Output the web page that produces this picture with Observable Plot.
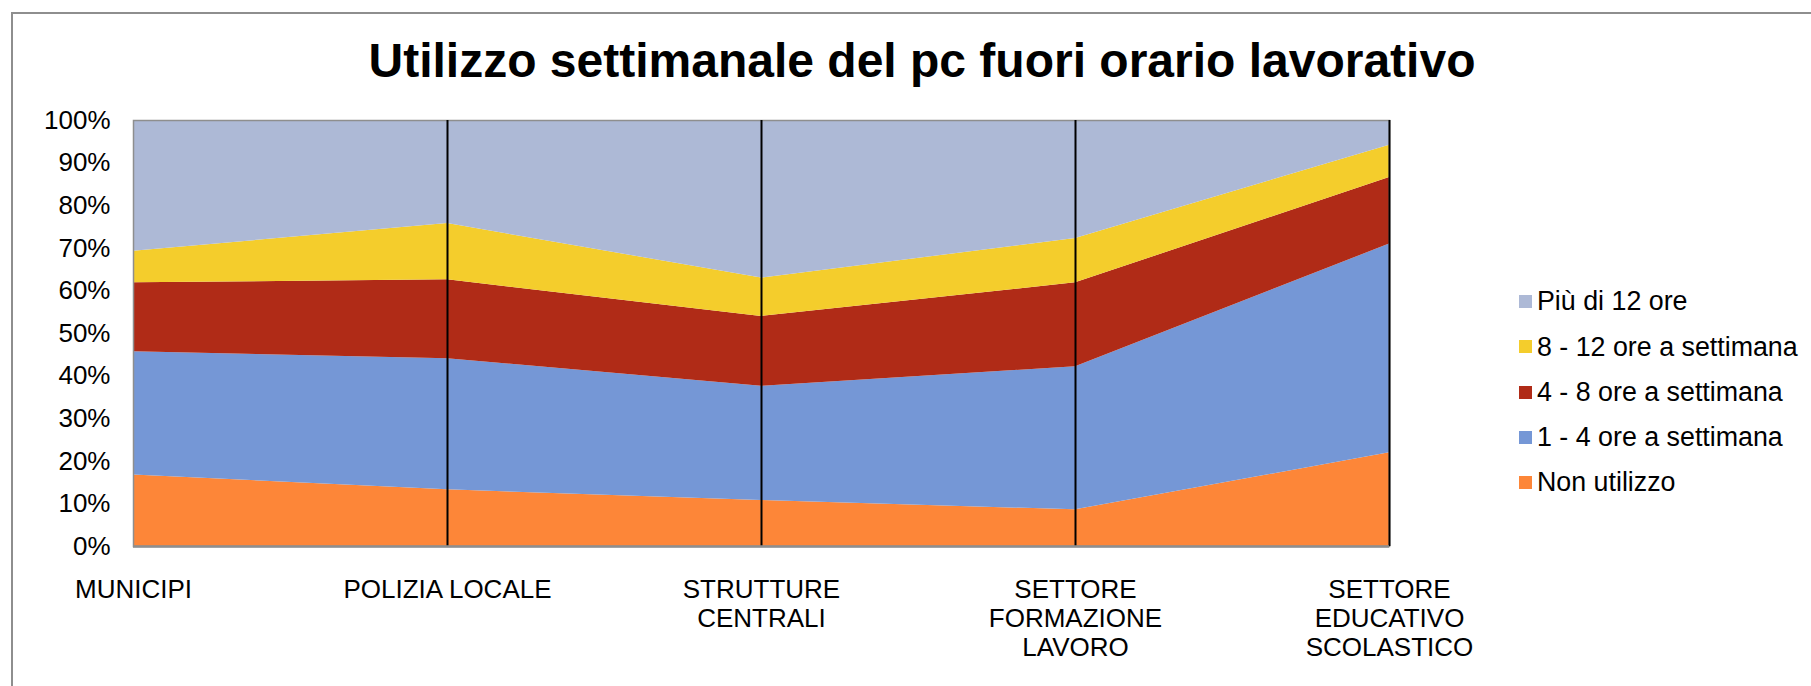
<!DOCTYPE html>
<html>
<head>
<meta charset="utf-8">
<script src="https://cdn.jsdelivr.net/npm/d3@7"></script>
<script src="https://cdn.jsdelivr.net/npm/@observablehq/plot@0.6"></script>
<style>
  html, body { margin: 0; padding: 0; background: #fff; overflow: hidden; }
  #wrap { position: relative; width: 1811px; height: 686px; font-family: "Liberation Sans", Arial, sans-serif; }
  #border { position: absolute; left: 11px; top: 12px; width: 1900px; height: 900px; border-top: 2px solid #8e8e8e; border-left: 2px solid #8e8e8e; box-sizing: border-box; }
  #title { position: absolute; left: 0; top: 37px; width: 1844px; text-align: center; font-weight: bold; font-size: 48px; line-height: 48px; color: #000; }
  #chart { position: absolute; left: 0; top: 0; }
  #legend { position: absolute; left: 1519px; top: 279px; }
  .item { display: flex; align-items: center; height: 45.3px; font-size: 26.8px; line-height: 26.8px; color: #000; white-space: nowrap; }
  .sw { width: 13px; height: 13px; margin-right: 5px; flex: none; }
</style>
</head>
<body>
<div id="wrap">
  <div id="border"></div>
  <div id="chart"></div>
  <div id="title"></div>
  <div id="legend"></div>
</div>
<script>
const titleText = "Utilizzo settimanale del pc fuori orario lavorativo";
const categories = ["MUNICIPI", "POLIZIA LOCALE", "STRUTTURE CENTRALI", "SETTORE FORMAZIONE LAVORO", "SETTORE EDUCATIVO SCOLASTICO"];
const categoryLabels = ["MUNICIPI", "POLIZIA LOCALE", "STRUTTURE\nCENTRALI", "SETTORE\nFORMAZIONE\nLAVORO", "SETTORE\nEDUCATIVO\nSCOLASTICO"];
const series = ["Non utilizzo", "1 - 4 ore a settimana", "4 - 8 ore a settimana", "8 - 12 ore a settimana", "Più di 12 ore"];
const colors = ["#fd8638", "#7597d6", "#b02b17", "#f4cd2c", "#adb9d6"];
const nonUtilizzo = [16.8, 13.3, 10.8, 8.6, 22.0];
const ore1a4 = [28.9, 30.8, 26.8, 33.6, 49.0];
const ore4a8 = [16.2, 18.5, 16.4, 19.7, 15.6];
const ore8a12 = [7.4, 13.2, 9.0, 10.4, 7.6];
const oltre12 = [30.7, 24.2, 37.0, 27.7, 5.8];
const yTicks = [0, 10, 20, 30, 40, 50, 60, 70, 80, 90, 100];

const seriesValues = [nonUtilizzo, ore1a4, ore4a8, ore8a12, oltre12];
const data = [];
series.forEach((s, si) => {
  categories.forEach((c, ci) => data.push({cat: c, series: s, value: seriesValues[si][ci]}));
});

document.getElementById("title").textContent = titleText;

const chart = Plot.plot({
  width: 1811,
  height: 686,
  marginTop: 120,
  marginLeft: 133,
  marginRight: 422,
  marginBottom: 140,
  style: {fontFamily: "'Liberation Sans', Arial, sans-serif", fontSize: "26px", color: "#000", background: "transparent", overflow: "visible"},
  x: {type: "point", domain: categories, padding: 0, label: null},
  y: {domain: [0, 100], label: null},
  color: {domain: series, range: colors},
  marks: [
    Plot.areaY(data, {x: "cat", y: "value", z: "series", fill: "series", order: series}),
    Plot.frame({stroke: "#8e8e8e", strokeWidth: 1.5}),
    Plot.ruleX(categories.slice(1), {stroke: "#000", strokeWidth: 2}),
    Plot.ruleY([0], {stroke: "#8e8e8e", strokeWidth: 2.5}),
    Plot.axisY(yTicks, {tickSize: 0, tickPadding: 23, tickFormat: d => d + "%", fontSize: 26, label: null}),
    Plot.axisX({tickSize: 0, tickPadding: 31, tickFormat: d => categoryLabels[categories.indexOf(d)], fontSize: 26, lineHeight: 1.12, label: null})
  ]
});
document.getElementById("chart").appendChild(chart);

const legend = document.getElementById("legend");
for (let i = series.length - 1; i >= 0; i--) {
  const item = document.createElement("div");
  item.className = "item";
  const sw = document.createElement("span");
  sw.className = "sw";
  sw.style.background = colors[i];
  const t = document.createElement("span");
  t.textContent = series[i];
  item.appendChild(sw);
  item.appendChild(t);
  legend.appendChild(item);
}
</script>
</body>
</html>
